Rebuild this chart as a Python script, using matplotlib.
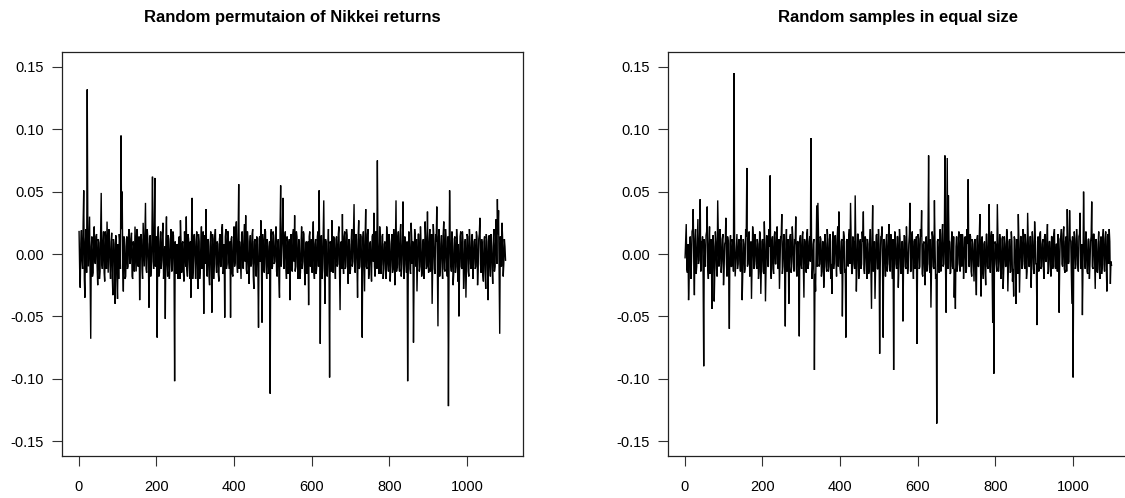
import numpy as np
import matplotlib
matplotlib.use("Agg")
import matplotlib.pyplot as plt

plt.rcParams['font.family'] = ['Liberation Sans', 'DejaVu Sans']

# Returns read at every 1.5 observations: "main" values at index 1, 4, 7, ...
# and "between" values half-way between consecutive main values; units: thousandths
step = 3
n_obs = 1100

perm_returns_milli = [
    18, -27, 19, -12, 51, -35, 20, 132, -10, 30, -68, 14, -15, 22, -8, 16, -25, 9, -14, 49,
    -12, 18, -22, 8, 26, -15, 12, -20, 17, -33, 8, -40, 5, -36, -20, 10, 95, 50, -30, 12,
    -18, 14, -10, 20, -6, 17, -20, 5, 22, -14, 18, -8, -37, 16, -12, 25, -10, 41, -15, 12,
    -43, 15, -8, 62, -12, 61, 10, -67, 22, -15, 18, -5, 25, -10, -52, 30, -18, 12, -8, 20,
    -12, 15, -102, -10, 8, -20, 14, 27, -15, 10, -22, 6, 30, -18, 12, -20, -35, 45, -10, 16,
    -20, 18, -28, 10, -12, 22, -5, -48, 15, 36, -18, 10, -25, 18, -47, 12, -8, 20, -15, 8,
    -22, 16, -10, 24, -14, -51, 20, -8, 18, -12, -51, 14, -18, 22, -6, 26, -15, 56, 10, -20,
    18, -12, 24, 31, -16, 10, -24, 15, -8, 20, -28, 12, -18, 8, -59, 14, 27, -55, 10, -15,
    18, -20, 6, -14, -112, 20, -10, 15, -6, 22, -18, 12, -35, 55, 5, 45, -12, 18, -20, 10,
    -8, -37, 16, -14, 20, 31, -10, 14, -20, 8, -15, 22, -6, 16, -25, 10, -12, -41, 18, -8,
    -15, 26, -20, 12, -10, 18, 51, -72, 15, -12, 43, -40, 10, -18, 20, -99, 8, 27, -15, 12,
    -20, 14, -8, 22, -45, 10, 32, -16, 18, -10, 15, -24, 8, -12, 20, -6, 40, -15, 12, -35,
    27, -10, 14, -67, 18, -30, 36, -12, 20, -15, 10, -22, 16, 33, -18, 12, 75, -10, 22, -16,
    14, -20, 8, -12, 22, -8, 16, -22, 10, -15, 20, -25, 43, -10, 18, -14, 24, -8, 42, -20,
    12, -15, -102, 18, -12, 25, -8, -71, 20, -10, -30, 16, -14, 22, -18, 10, -20, 26, -12, 34,
    -15, 20, -8, -40, 24, -12, 16, 38, -58, 20, -10, 15, -20, 26, -14, 10, -18, -122, 51, -8,
    18, -25, 12, -15, 20, -22, -50, 14, -10, 18, -28, 8, -35, 16, -14, 20, -8, 14, -20, 10,
    -12, 18, -25, 12, 29, -15, 8, -22, 14, -28, 10, -37, 15, -18, 6, -24, 20, -10, 28, 44,
    35, -64, 10, 25, -18, 12, -5,
]

perm_between_milli = [
    -12, 8, -5, 25, -20, 10, -15, 20, 12, -22, 6, -18, 10, -6, 14, -10, 12, -20, 15, -8,
    10, -15, 18, -12, 5, 20, -8, 10, -18, 12, -6, 15, -20, 8, 16, -12, 20, -10, 14, -20,
    6, -12, 16, -8, 12, -18, 10, -14, 4, 20, -10, 14, -6, 12, -20, 8, 16, -12, 20, -6,
    8, -18, 12, -6, 20, -10, 14, 8, -18, 10, -12, 16, -20, 6, 12, -8, 15, -20, 10, -14,
    18, -12, 10, -16, 6, 12, -20, 10, 8, -14, 18, -10, -12, 16, -8, 10, 12, -20, 14, -6,
    10, -14, 16, -20, 8, -12, 18, 10, -8, -14, 12, -18, 6, -10, 16, -20, 14, -8, 10, -16,
    12, -10, 20, -16, 8, 14, -12, 18, -6, 10, 12, -16, 8, -10, 20, -8, 14, -12, -6, 16,
    -10, 14, -6, -12, 18, -14, 8, -10, 16, -18, 10, -8, 14, -16, 12, -6, -10, 16, -12, 20,
    -8, 12, -16, 10, 14, -12, 18, -8, 10, -14, 8, -20, 20, -10, 16, -8, 12, -10, 14, -16,
    12, 10, -12, 16, -6, -14, 18, -10, 12, -20, 8, -12, 18, -14, 6, -16, 10, 14, -10, 12,
    10, -14, 8, -16, 14, -10, 6, 12, -20, 16, -8, 12, -14, 6, -12, 10, -14, -6, 14, -8,
    12, -10, 16, -14, 8, -12, -6, 14, -12, 20, -8, 12, -16, 10, -10, 18, -12, 16, -8, 14,
    -12, 16, -10, 12, -8, 14, -10, 16, -20, 8, -12, 14, -6, -10, 18, -12, 10, -16, 12, -8,
    16, -12, 10, -20, 12, -14, 8, -10, 16, -12, 6, 10, -14, 12, -8, 16, -18, 10, -12, 14,
    -8, 10, -14, 8, -16, 12, 10, -18, 14, 12, -8, 16, -10, 8, -14, 12, -8, 14, -10, -6,
    10, -14, 16, -8, 12, -16, 10, -12, 14, -18, 8, -10, 16, -12, 20, -8, 14, -10, 12, -14,
    6, -16, 14, -10, 12, 8, -14, 18, -12, 10, -16, 12, -8, 14, -18, 10, -12, 16, -8, 12,
    -10, 14, -12, 16, -8, 12, -16, 10, -14, 16, -10, 12, -8, 16, -12, 10, -14, 12, -8, 16,
    -12, 14, -10, 12, -8, 6,
]

sample_returns_milli = [
    -3, 24, -15, -37, 12, -20, 18, 36, -33, 20, -10, 28, -5, 44, 10, 14, -90, -5, 15, 38,
    -20, 22, -8, -44, 15, -38, 18, -12, 43, -10, 20, -15, 12, -25, 8, 29, -18, 10, -60, 15,
    -10, 8, 145, -18, 5, -12, 10, -5, 15, -37, 12, -15, 20, 69, -8, 18, -10, -36, 22, -12,
    16, -8, 12, -20, 18, -32, 10, -14, 26, -38, 15, -10, 20, 63, -20, 14, -16, 18, -8, 22,
    -12, -28, 14, 32, -10, 16, -58, 20, -8, -40, 14, -15, 22, -6, 12, 30, -18, 10, -66, 15,
    -12, 18, -35, 10, -15, 20, -8, 14, 93, -20, 8, -93, -30, 39, 41, -10, 14, -18, 10, -27,
    16, -10, 20, -14, 12, -20, -32, 18, -6, 15, -18, 22, 34, -12, 10, -50, 18, -15, -67, 12,
    -10, 20, 41, -15, 14, -8, 47, -30, 16, -20, 10, -12, 18, 34, -16, 12, -20, 8, -14, 20,
    -44, 39, -10, -36, 15, -12, 20, -80, 14, 22, -67, 10, -18, 16, -8, 24, -14, 12, -20, -93,
    18, -8, 14, -27, 20, -12, 10, -54, 15, -10, 22, -16, 8, 41, -14, 18, -20, 12, -8, -72,
    16, -12, 20, 35, -18, 10, -25, 14, -8, 79, -15, -43, 18, -10, 43, -20, -136, 12, -15, 20,
    -10, 24, -8, 79, -47, 77, 47, 10, -15, 18, -12, -35, -44, 14, -8, 18, -14, 10, 16, -20,
    12, -15, 20, 60, -10, 14, -18, 8, -22, 12, -33, 15, -10, 32, -34, 14, -20, 10, -25, 16,
    -12, 40, -15, 18, -55, -96, 10, -8, 40, -14, 16, -20, 12, -28, 14, -10, 20, -30, 10, -15,
    18, -22, -34, 12, -40, 8, 32, -31, 14, -12, 20, -8, 16, -20, 33, -10, 14, -27, 18, -12,
    26, -8, -57, 14, -12, 18, -10, 12, -20, 16, -6, 24, -14, 10, -18, 14, -8, 20, -12, 8,
    16, -47, 12, 20, -10, 22, -15, 14, 36, -8, 35, 10, -40, -99, 18, -12, 20, -8, 14, 33,
    -10, -49, 50, -8, 18, -14, 12, -20, 10, 42, -12, 16, -28, 10, -15, 18, -20, 14, -10, 20,
    -14, 18, -30, 16, 20, -24, -9,
]

sample_between_milli = [
    10, -12, 8, -18, 14, -6, 20, -10, 12, -16, 10, -8, 16, -14, 6, -20, 12, -10, 18, -12,
    8, -16, 12, -10, 6, -14, 10, -18, 14, -8, 12, -6, 16, -12, 10, -8, 14, -20, 8, -10,
    12, -14, 10, -6, 16, -8, 12, -14, 10, -16, 8, -12, 14, -10, 12, -18, 10, -8, 14, -6,
    10, -12, 8, -14, 16, -10, 12, -16, 8, -12, 14, -10, 6, -14, 10, -12, 14, -8, 16, -10,
    12, -8, 14, -16, 10, -12, 8, -14, 12, -6, 16, -10, 12, -14, 8, -12, 10, -16, 12, -8,
    14, -10, 12, -8, 16, -12, 10, -6, 14, -10, 12, -16, 8, -10, 14, -8, 12, -14, 10, -12,
    8, -14, 12, -10, 16, -8, 10, -12, 14, -6, 12, -10, 8, -16, 12, -8, 14, -12, 10, -6,
    14, -8, 12, -16, 10, -12, 8, -10, 16, -14, 12, -8, 10, -12, 14, -6, 12, -16, 8, -10,
    12, -14, 10, -8, 16, -12, 8, -10, 14, -16, 12, -6, 10, -14, 12, -8, 16, -10, 12, -14,
    8, -12, 14, -10, 12, -16, 10, -8, 14, -12, 6, -10, 16, -14, 12, -8, 10, -12, 14, -8,
    12, -10, 14, -16, 8, -12, 10, -14, 16, -8, 12, -10, 14, -12, 8, -16, 10, -8, 12, -14,
    16, -10, 12, -8, 14, -12, 10, -16, 8, -10, 14, -12, 6, -14, 12, -8, 16, -10, 12, -6,
    14, -12, 8, -10, 16, -14, 12, -8, 10, -16, 12, -10, 14, -6, 12, -14, 8, -12, 16, -10,
    10, -8, 14, -12, 16, -10, 8, -14, 12, -6, 10, -16, 14, -12, 8, -10, 16, -8, 12, -14,
    10, -12, 14, -8, 12, -16, 10, -10, 14, -6, 16, -12, 8, -14, 12, -10, 14, -8, 10, -16,
    12, -8, 10, -14, 16, -12, 8, -10, 14, -6, 12, -16, 10, -8, 14, -12, 16, -10, 8, -14,
    12, -10, 14, -8, 16, -12, 10, -14, 8, -6, 12, -16, 14, -10, 12, -8, 10, -14, 16, -12,
    8, -10, 14, -12, 10, -16, 12, -8, 14, -10, 16, -6, 12, -14, 8, -12, 10, -16, 14, -8,
    12, -10, 14, -8, 10, -6,
]

titles = ["Random permutaion of Nikkei returns", "Random samples in equal size"]
series = [(perm_returns_milli, perm_between_milli),
          (sample_returns_milli, sample_between_milli)]

x_ticks = [0, 200, 400, 600, 800, 1000]
y_ticks = [-0.15, -0.10, -0.05, 0.00, 0.05, 0.10, 0.15]
y_tick_labels = ["-0.15", "-0.10", "-0.05", "0.00", "0.05", "0.10", "0.15"]

W, H = 1125, 498
fig = plt.figure(figsize=(W / 100, H / 100), dpi=100)

axes_px = [(62, 52, 461, 404), (668, 52, 461, 404)]  # left, top, width, height in px

for (lx, ty, w, h), (main_vals, mid_vals), title in zip(axes_px, series, titles):
    ax = fig.add_axes([lx / W, 1 - (ty + h) / H, w / W, h / H])
    main = np.array(main_vals, dtype=float) / 1000.0
    mid = np.array(mid_vals, dtype=float) / 1000.0
    y = np.empty(len(main) + len(mid))
    y[0::2] = main
    y[1::2] = mid
    x = 1 + (step / 2) * np.arange(len(y))
    ax.plot(x, y, color='black', lw=1.0, solid_joinstyle='miter')
    ax.set_xlim(1 - 0.04 * (n_obs - 1), n_obs + 0.04 * (n_obs - 1))
    ax.set_ylim(-0.162, 0.162)
    ax.set_xticks(x_ticks)
    ax.set_xticklabels([str(t) for t in x_ticks])
    ax.set_yticks(y_ticks)
    ax.set_yticklabels(y_tick_labels)
    ax.tick_params(direction='out', length=7, width=0.8, labelsize=10.5,
                   colors='#333333', labelcolor='black')
    ax.tick_params(axis='x', pad=10.5)
    ax.tick_params(axis='y', pad=6)
    for s in ax.spines.values():
        s.set_linewidth(0.9)
        s.set_color('#222222')
    fig.text((lx + w / 2) / W, 1 - 17.5 / H, title, ha='center', va='center',
             fontsize=12, fontweight='bold')

fig.savefig("out.png", dpi=100)
